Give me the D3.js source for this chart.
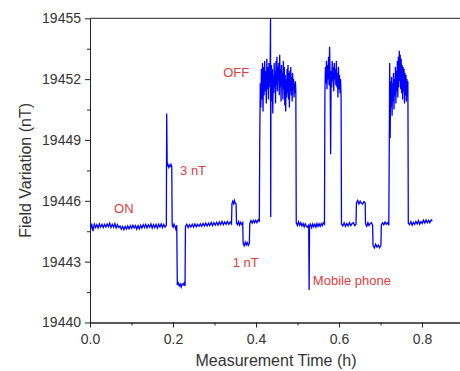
<!DOCTYPE html>
<html>
<head>
<meta charset="utf-8">
<script src="https://cdn.jsdelivr.net/npm/d3@7"></script>
<style>
  body { margin: 0; background: #fff; }
  svg { display: block; font-family: "Liberation Sans", Arial, sans-serif; }
  .axis path, .axis line { stroke: #222; }
  .axis text { fill: #333; font-size: 14px; }
  .title { fill: #333; font-size: 16px; }
  .note { fill: #e03c3c; font-size: 13px; }
</style>
</head>
<body>
<svg id="chart" width="460" height="371"></svg>
<script>
/* ==== Data ==== */
// time windows (h) of each piece of the trace, readings are spread evenly inside
var segTimes = [
  [0, 0.0004], [0.001, 0.184], [0.1848, 0.1848], [0.186, 0.197], [0.198, 0.209],
  [0.2104, 0.229], [0.230, 0.341], [0.342, 0.352], [0.353, 0.368], [0.369, 0.384],
  [0.385, 0.408], [0.409, 0.434], [0.435, 0.4355], [0.436, 0.496], [0.497, 0.527],
  [0.528, 0.528], [0.529, 0.565], [0.566, 0.605], [0.606, 0.641], [0.642, 0.663],
  [0.664, 0.681], [0.682, 0.701], [0.702, 0.720], [0.721, 0.766], [0.767, 0.825]
];

var startSpike = [19446.9, 19444.6];
var onBase = [19444.55, 19444.88, 19444.5, 19444.85, 19444.68, 19444.82, 19444.66, 19444.86, 19444.7, 19444.84,
  19444.68, 19444.84, 19444.7, 19444.86, 19444.72, 19444.9, 19444.68, 19444.84, 19444.7, 19444.88,
  19444.66, 19444.82, 19444.68, 19444.76, 19444.6, 19444.74, 19444.58, 19444.74, 19444.6, 19444.76,
  19444.62, 19444.78, 19444.64, 19444.8, 19444.66, 19444.78, 19444.6, 19444.78, 19444.62, 19444.8,
  19444.66, 19444.82, 19444.68, 19444.84, 19444.66, 19444.82, 19444.7, 19444.86, 19444.66, 19444.82,
  19444.68, 19444.84, 19444.66, 19444.84, 19444.7, 19444.86, 19444.68, 19444.84, 19444.7, 19444.8];
var spike3 = [19450.3];
var high3 = [19447.7, 19447.8, 19447.65, 19447.75, 19447.7, 19447.8, 19447.7];
var mid3 = [19444.8, 19444.7, 19444.85, 19444.75, 19444.6, 19444.8];
var low3 = [19441.85, 19441.95, 19441.8, 19441.9, 19441.75, 19441.9, 19441.85, 19441.95, 19441.8];
var base2 = [19444.72, 19444.84, 19444.68, 19444.82, 19444.7, 19444.84, 19444.7, 19444.86, 19444.72, 19444.84,
  19444.74, 19444.86, 19444.74, 19444.88, 19444.76, 19444.9, 19444.76, 19444.9, 19444.78, 19444.94,
  19444.78, 19444.92, 19444.8, 19444.94, 19444.8, 19444.96, 19444.82, 19444.98, 19444.82, 19444.96,
  19444.84, 19444.98, 19444.84, 19444.96, 19444.86];
var high1 = [19445.85, 19445.98, 19445.86, 19446.02, 19445.88, 19445.85];
var mid1 = [19444.9, 19444.82, 19444.98, 19444.8, 19444.94, 19444.84, 19444.92];
var low1 = [19443.9, 19443.78, 19443.96, 19443.82, 19443.94, 19443.8, 19443.9];
var base3 = [19444.88, 19445.02, 19444.9, 19445.04, 19444.92, 19445.04, 19444.92, 19445.06, 19445.0];
var off1a = [19448.9, 19451.8, 19450.6, 19452.5, 19451.0, 19452.8, 19450.4, 19452.6, 19451.2, 19452.9,
  19451.4, 19452.4, 19450.8, 19453.0, 19451.5, 19452.6, 19451.0, 19452.8, 19451.6, 19452.3];
var off1Spike = [19455.0, 19445.2];
var off1b = [19451.9, 19452.7, 19450.9, 19452.5, 19450.3, 19452.2, 19451.3, 19452.8, 19451.6, 19452.4,
  19450.8, 19452.9, 19451.7, 19453.1, 19451.4, 19452.6, 19451.9, 19452.8, 19451.2, 19453.2,
  19451.6, 19452.5, 19450.9, 19452.7, 19451.8, 19452.3, 19451.0, 19452.9, 19451.5, 19452.6,
  19450.7, 19452.2, 19450.4, 19452.0, 19451.1, 19452.5, 19451.3, 19452.7, 19451.0, 19452.3,
  19450.6, 19452.4, 19451.4, 19452.6, 19451.2, 19452.1, 19450.9, 19452.3, 19451.5, 19452.0,
  19451.1, 19451.8, 19451.3, 19451.9, 19451.4];
var base4a = [19444.92, 19444.78, 19444.96, 19444.8, 19444.92, 19444.76, 19444.88, 19444.72, 19444.86, 19444.74, 19444.7, 19444.8];
var phone = [19441.6];
var base4b = [19444.72, 19444.84, 19444.68, 19444.86, 19444.72, 19444.84, 19444.7, 19444.88, 19444.74, 19444.86,
  19444.74, 19444.88, 19444.78, 19444.92, 19444.85];
var off2 = [19451.2, 19452.6, 19451.8, 19452.9, 19451.5, 19452.7, 19452.0, 19453.1, 19451.7, 19453.6,
  19452.2, 19448.3, 19452.4, 19451.6, 19452.9, 19451.9, 19452.6, 19451.4, 19452.8, 19452.0,
  19452.5, 19451.7, 19452.9, 19451.6, 19452.3, 19451.1, 19452.6, 19451.5, 19452.2, 19451.3,
  19452.0, 19451.2];
var base5 = [19444.86, 19444.76, 19444.92, 19444.74, 19444.88, 19444.76, 19444.92, 19444.78, 19444.88, 19444.92, 19444.78, 19444.85];
var high1b = [19445.9, 19446.02, 19445.84, 19445.98, 19445.88, 19445.84, 19445.96, 19445.9];
var mid1b = [19444.86, 19444.74, 19444.92, 19444.78, 19444.88, 19444.92, 19444.8];
var low1b = [19443.8, 19443.68, 19443.86, 19443.72, 19443.82, 19443.68, 19443.8];
var base6 = [19444.8, 19444.92, 19444.82, 19444.96, 19444.84, 19444.92, 19444.8];
var off3 = [19448.2, 19452.8, 19449.1, 19451.9, 19450.6, 19452.1, 19450.2, 19451.8, 19450.9, 19452.3,
  19450.5, 19452.0, 19451.2, 19452.6, 19450.8, 19452.4, 19451.4, 19452.9, 19451.1, 19453.1,
  19451.6, 19453.4, 19451.9, 19453.2, 19451.5, 19453.0, 19451.3, 19452.7, 19451.0, 19452.6,
  19451.4, 19452.5, 19450.8, 19452.3, 19451.2, 19452.2, 19450.9, 19452.0, 19451.5, 19451.9];
var base7 = [19444.9, 19444.82, 19444.98, 19444.8, 19444.94, 19444.84, 19444.98, 19444.86, 19445.02, 19444.84,
  19444.98, 19444.88, 19445.04, 19444.9, 19445.06, 19444.92, 19445.04, 19444.92, 19445.06, 19445.0];

var segValues = [startSpike, onBase, spike3, high3, mid3, low3, base2, high1, mid1, low1,
  base3, off1a, off1Spike, off1b, base4a, phone, base4b, off2, base5, high1b,
  mid1b, low1b, base6, off3, base7];

var xTicks = [0, 0.2, 0.4, 0.6, 0.8];
var xMinor = [0.1, 0.3, 0.5, 0.7];
var yTicks = [19440, 19443, 19446, 19449, 19452, 19455];
var yMinor = [19441.5, 19444.5, 19447.5, 19450.5, 19453.5];

var notes = [
  { text: "ON", t: 0.058, v: 19445.4 },
  { text: "3 nT", t: 0.217, v: 19447.27 },
  { text: "OFF", t: 0.321, v: 19452.1 },
  { text: "1 nT", t: 0.344, v: 19442.75 },
  { text: "Mobile phone", t: 0.537, v: 19441.85 }
];

// flatten pieces into one trace
var trace = [];
segValues.forEach(function(vals, i) {
  var t0 = segTimes[i][0], t1 = segTimes[i][1];
  vals.forEach(function(v, j) {
    var t = vals.length > 1 ? t0 + (t1 - t0) * j / (vals.length - 1) : t0;
    trace.push({ t: t, v: v });
  });
});

/* ==== Layout ==== */
var LEFT = 90, TOP = 18.3, BOTTOM = 322.5, RIGHT = 463.5;

var svg = d3.select("#chart");
var x = d3.scaleLinear().domain([0, 0.9]).range([LEFT, RIGHT]);
var y = d3.scaleLinear().domain([19440, 19455]).range([BOTTOM, TOP]);

svg.append("defs").append("clipPath").attr("id", "plotClip")
   .append("rect").attr("x", LEFT).attr("y", TOP).attr("width", RIGHT - LEFT).attr("height", BOTTOM - TOP);

/* ==== Trace ==== */
var line = d3.line().x(d => x(d.t)).y(d => y(d.v));
svg.append("path")
   .datum(trace)
   .attr("clip-path", "url(#plotClip)")
   .attr("fill", "none")
   .attr("stroke", "#0000ff")
   .attr("stroke-width", 1.3)
   .attr("d", line);

/* ==== Axes ==== */
var xAxis = svg.append("g").attr("class", "axis")
   .attr("transform", "translate(0," + BOTTOM + ")")
   .call(d3.axisBottom(x).tickValues(xTicks).tickFormat(d3.format(".1f")).tickSize(5).tickPadding(7).tickSizeOuter(0));
svg.append("g").attr("class", "axis")
   .attr("transform", "translate(0," + BOTTOM + ")")
   .call(d3.axisBottom(x).tickValues(xMinor).tickFormat("").tickSize(3).tickSizeOuter(0));

var yAxis = svg.append("g").attr("class", "axis")
   .attr("transform", "translate(" + LEFT + ",0)")
   .call(d3.axisLeft(y).tickValues(yTicks).tickFormat(d3.format("d")).tickSize(5).tickPadding(4).tickSizeOuter(0));
svg.append("g").attr("class", "axis")
   .attr("transform", "translate(" + LEFT + ",0)")
   .call(d3.axisLeft(y).tickValues(yMinor).tickFormat("").tickSize(3).tickSizeOuter(0));

// top frame line
svg.append("line")
   .attr("x1", LEFT).attr("x2", RIGHT)
   .attr("y1", TOP).attr("y2", TOP)
   .attr("stroke", "#222");

/* ==== Titles ==== */
svg.append("text").attr("class", "title")
   .attr("x", 276).attr("y", 366)
   .attr("text-anchor", "middle")
   .text("Measurement Time (h)");

svg.append("text").attr("class", "title")
   .attr("transform", "translate(31," + (TOP + BOTTOM) / 2 + ") rotate(-90)")
   .attr("text-anchor", "middle")
   .text("Field Variation (nT)");

/* ==== Notes ==== */
svg.selectAll(".note").data(notes).enter()
   .append("text")
   .attr("class", "note")
   .attr("x", d => x(d.t))
   .attr("y", d => y(d.v))
   .text(d => d.text);
</script>
</body>
</html>
